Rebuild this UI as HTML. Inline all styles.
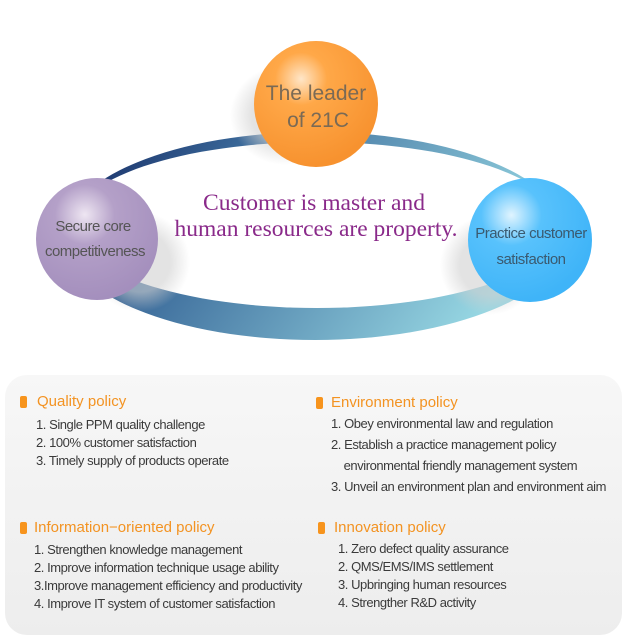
<!DOCTYPE html>
<html><head><meta charset="utf-8"><style>
body{margin:0;width:629px;height:641px;background:#fff;position:relative;overflow:hidden;font-family:"Liberation Sans",sans-serif}
.a{position:absolute;white-space:nowrap}
.h{color:#f39322;font-size:15px}
.i{color:#3a3a3a;font-size:13px;letter-spacing:-0.45px}
.ic{position:absolute;width:7px;height:12px;background:#f7941d;border-radius:2px}
.box{position:absolute;left:5px;top:375px;width:617px;height:260px;border-radius:22px;background:linear-gradient(#f7f7f7,#ededed)}
</style></head><body>
<svg class="a" style="left:0;top:0" width="629" height="370">
<defs>
<linearGradient id="rg" x1="0" y1="0" x2="1" y2="0.3">
<stop offset="0" stop-color="#0f1f5a"/><stop offset="0.35" stop-color="#3b6a9a"/><stop offset="1" stop-color="#96d6e2"/></linearGradient>
<radialGradient id="og" cx="0.38" cy="0.3" r="0.7"><stop offset="0" stop-color="#ffe6c8"/><stop offset="0.3" stop-color="#ffa848"/><stop offset="1" stop-color="#f7922f"/></radialGradient>
<radialGradient id="pg" cx="0.4" cy="0.3" r="0.7"><stop offset="0" stop-color="#eee6f2"/><stop offset="0.35" stop-color="#b4a0c8"/><stop offset="1" stop-color="#a48fbd"/></radialGradient>
<radialGradient id="bg" cx="0.35" cy="0.3" r="0.7"><stop offset="0" stop-color="#e0f4ff"/><stop offset="0.35" stop-color="#58c2fc"/><stop offset="1" stop-color="#3fb4f8"/></radialGradient>
<radialGradient id="sh" cx="0.5" cy="0.5" r="0.5"><stop offset="0.6" stop-color="#d0d0d0"/><stop offset="1" stop-color="#d0d0d0" stop-opacity="0"/></radialGradient>
</defs>
<ellipse cx="315" cy="236" rx="252" ry="104" fill="url(#rg)"/>
<ellipse cx="317" cy="225" rx="245" ry="83" fill="#fff"/>
<ellipse cx="140" cy="262" rx="50" ry="50" fill="url(#sh)" opacity="0.6"/>
<ellipse cx="490" cy="265" rx="50" ry="50" fill="url(#sh)" opacity="0.6"/>
<ellipse cx="285" cy="115" rx="55" ry="50" fill="url(#sh)" opacity="0.6"/>
<ellipse cx="316" cy="104" rx="62" ry="63" fill="url(#og)"/>
<ellipse cx="97" cy="239" rx="61" ry="61" fill="url(#pg)"/>
<ellipse cx="530" cy="240" rx="62" ry="62" fill="url(#bg)"/>
<g font-family="Liberation Sans" text-anchor="middle">
<text x="316" y="100" font-size="21" fill="#7a6a55">The leader</text>
<text x="318" y="127" font-size="21" fill="#7a6a55">of  21C</text>
<text x="93" y="231" font-size="15" fill="#555" letter-spacing="-0.5">Secure core</text>
<text x="95" y="256" font-size="15" fill="#555" letter-spacing="-0.5">competitiveness</text>
<text x="531" y="238" font-size="15" fill="#3a5a70" letter-spacing="-0.5">Practice customer</text>
<text x="531" y="264" font-size="15" fill="#3a5a70" letter-spacing="-0.5">satisfaction</text>
</g>
<g font-family="Liberation Serif" fill="#8a2a8a" font-size="23" text-anchor="middle">
<text x="314" y="210" textLength="222" lengthAdjust="spacingAndGlyphs">Customer is master and</text>
<text x="316" y="236" textLength="283" lengthAdjust="spacingAndGlyphs">human resources are property.</text>
</g>
</svg>
<div class="box"></div>
<div class="ic" style="left:20px;top:396px"></div><div class="a h" style="left:37px;top:393px">Quality  policy</div>
<div class="a i" style="left:36px;top:416px;line-height:18px">1. Single PPM quality challenge<br>2. 100% customer satisfaction<br>3. Timely supply of products operate</div>
<div class="ic" style="left:316px;top:397px"></div><div class="a h" style="left:331px;top:394px">Environment  policy</div>
<div class="a i" style="left:331px;top:413px;line-height:21px">1. Obey  environmental law and regulation<br>2. Establish a practice management policy<br>&nbsp;&nbsp;&nbsp;&nbsp;environmental friendly management system<br>3. Unveil an environment plan and environment aim</div>
<div class="ic" style="left:20px;top:522px"></div><div class="a h" style="left:34px;top:519px">Information−oriented  policy</div>
<div class="a i" style="left:34px;top:541px;line-height:18px">1. Strengthen knowledge management<br>2. Improve information technique usage ability<br>3.Improve management efficiency and productivity<br>4. Improve IT system of customer satisfaction</div>
<div class="ic" style="left:318px;top:522px"></div><div class="a h" style="left:334px;top:519px">Innovation  policy</div>
<div class="a i" style="left:338px;top:540px;line-height:18px">1. Zero defect quality assurance<br>2. QMS/EMS/IMS settlement<br>3. Upbringing human resources<br>4. Strengther R&amp;D activity</div>
</body></html>
